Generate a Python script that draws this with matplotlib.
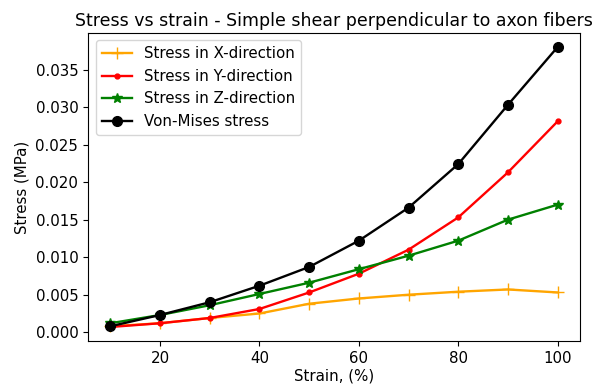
import matplotlib
matplotlib.use("Agg")
import matplotlib.pyplot as plt

strain = [10, 20, 30, 40, 50, 60, 70, 80, 90, 100]
stress_x = [0.0008, 0.0012, 0.0019, 0.0025, 0.0038, 0.0045, 0.0050, 0.0054, 0.0057, 0.0053]
stress_y = [0.0007, 0.0012, 0.0019, 0.0031, 0.0053, 0.0078, 0.0110, 0.0153, 0.0213, 0.0281]
stress_z = [0.0012, 0.0023, 0.0036, 0.0051, 0.0066, 0.0084, 0.0102, 0.0122, 0.0150, 0.0170]
von_mises = [0.0008, 0.0023, 0.0040, 0.0062, 0.0087, 0.0122, 0.0166, 0.0224, 0.0303, 0.0380]

plt.rcParams['font.size'] = 10.8

fig = plt.figure(figsize=(5.96, 3.85), dpi=100)
ax = fig.add_axes([0.1477, 0.1143, 0.8255, 0.800])
lw = 1.7
ax.plot(strain, stress_x, color='orange', marker='+', ms=8, lw=lw, label='Stress in X-direction')
ax.plot(strain, stress_y, color='red', marker='.', ms=7, lw=lw, label='Stress in Y-direction')
ax.plot(strain, stress_z, color='green', marker='*', ms=7.5, lw=lw, label='Stress in Z-direction')
ax.plot(strain, von_mises, color='black', marker='o', ms=7, lw=lw, label='Von-Mises stress')

ax.set_title('Stress vs strain - Simple shear perpendicular to axon fibers', fontsize=12.5, pad=5)
ax.set_xlabel('Strain, (%)', labelpad=2)
ax.set_ylabel('Stress (MPa)')
ax.legend(loc='upper left')
fig.savefig('out.png')
